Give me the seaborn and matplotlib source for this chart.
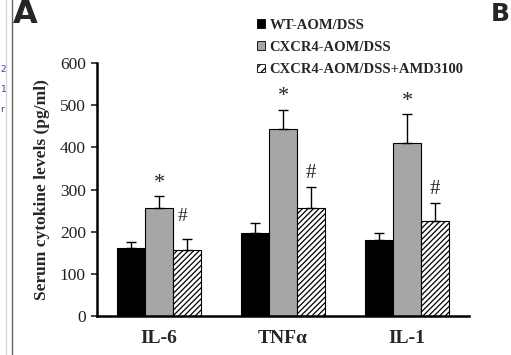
import matplotlib
matplotlib.use("Agg")
import matplotlib.pyplot as plt
import seaborn as sns
import pandas as pd
import numpy as np
from matplotlib.patches import Patch

cytokines = ["IL-6", "TNFα", "IL-1"]
groups = ["WT-AOM/DSS", "CXCR4-AOM/DSS", "CXCR4-AOM/DSS+AMD3100"]
wt_vals = [161, 196, 180]
cx_vals = [256, 443, 410]
amd_vals = [157, 255, 225]
wt_err = [14, 24, 17]
cx_err = [28, 46, 69]
amd_err = [25, 50, 43]
y_ticks = [0, 100, 200, 300, 400, 500, 600]

sns.set_theme(style="white")
plt.rcParams['font.family'] = ['Liberation Serif', 'DejaVu Serif']
plt.rcParams['hatch.linewidth'] = 0.9

rows = []
for g, vals in zip(groups, [wt_vals, cx_vals, amd_vals]):
    for c, v in zip(cytokines, vals):
        rows.append({"cytokine": c, "group": g, "value": v})
df = pd.DataFrame(rows)

W, H = 511, 355
fig = plt.figure(figsize=(W / 100, H / 100), dpi=100)
ax = fig.add_axes([97 / W, 39 / H, 372 / W, 253 / H])

colors = ["#000000", "#a6a6a6", "#ffffff"]
sns.barplot(data=df, x="cytokine", y="value", hue="group", order=cytokines,
            hue_order=groups, palette=colors, width=0.67, gap=0,
            edgecolor="black", linewidth=0.8, errorbar=None, legend=False, ax=ax)

errs = [wt_err, cx_err, amd_err]
vals_all = [wt_vals, cx_vals, amd_vals]
patches = ax.patches
for gi in range(3):
    for ci in range(3):
        p = patches[gi * 3 + ci]
        if gi == 2:
            p.set_hatch("//////")
        x = p.get_x() + p.get_width() / 2
        ax.errorbar(x, vals_all[gi][ci], yerr=[[0], [errs[gi][ci]]],
                    fmt="none", ecolor="black", elinewidth=1.0, capsize=3.5, capthick=1.0)

# significance markers
for ci in range(3):
    p = patches[3 + ci]
    x = p.get_x() + p.get_width() / 2
    ax.text(x, cx_vals[ci] + cx_err[ci] + 8, "*", ha="center", va="bottom",
            fontsize=16)
p = patches[3]
ax.text(p.get_x() + p.get_width() + 0.04, cx_vals[0] - 20, "#", ha="left", va="center", fontsize=14)
for ci in [1, 2]:
    p = patches[6 + ci]
    x = p.get_x() + p.get_width() / 2
    ax.text(x, amd_vals[ci] + amd_err[ci] + 10, "#", ha="center", va="bottom", fontsize=15)

ax.set_ylim(0, 600)
ax.set_xlim(-0.5, 2.5)
ax.set_yticks(y_ticks)
ax.set_yticklabels([str(t) for t in y_ticks], fontsize=12.5, color="#222222")
ax.set_xticks([0.5, 1.5, 2.5], minor=False)
ax.set_xticklabels([])
ax.set_xticks([0, 1, 2], minor=True)
ax.set_xticklabels(cytokines, minor=True, fontsize=14, fontweight="bold")
ax.tick_params(axis="x", which="minor", length=0, pad=10)
ax.tick_params(axis="x", which="major", length=4, width=1.2, direction="out")
ax.tick_params(axis="y", length=4, width=1.2, direction="out", left=True, pad=4)
ax.set_xlabel("")
ax.set_ylabel("Serum cytokine levels (pg/ml)", fontsize=12.5, fontweight="bold", labelpad=7)
for s in ["top", "right"]:
    ax.spines[s].set_visible(False)
for s in ["left", "bottom"]:
    ax.spines[s].set_linewidth(1.8)
    ax.spines[s].set_color("black")

handles = [Patch(facecolor=colors[0], edgecolor="black", linewidth=0.6),
           Patch(facecolor=colors[1], edgecolor="black", linewidth=0.6),
           Patch(facecolor="white", edgecolor="black", linewidth=0.6, hatch="////")]
fig.legend(handles, groups, loc="upper left", bbox_to_anchor=(257 / W, 1 - 19 / H),
           frameon=False, prop={"family": "Liberation Serif", "weight": "bold", "size": 10.5},
           handlelength=0.55, handleheight=0.55, handletextpad=0.3, labelspacing=0.62,
           borderaxespad=0, borderpad=0)

# panel letters and borders
fig.text(13 / W, 1 - 23 / H, "A", fontsize=23, fontweight="bold", family="DejaVu Sans",
         ha="left", va="baseline")
fig.text(510 / W, 1 - 21 / H, "B", fontsize=18, fontweight="bold", family="DejaVu Sans",
         ha="right", va="baseline")
fig.add_artist(plt.Line2D([11.5 / W, 11.5 / W], [0, 1], color="#666666", lw=1.0))
fig.add_artist(plt.Line2D([5.5 / W, 5.5 / W], [0, 1], color="#d8d8d8", lw=1.0))
for yy, t in zip([70, 90, 110], ["2", "1", "r"]):
    fig.text(0.5 / W, 1 - yy / H, t, fontsize=6.5, color="#2a4a9a", ha="left", va="center",
             family="DejaVu Sans")

fig.savefig("out.png", dpi=100)
